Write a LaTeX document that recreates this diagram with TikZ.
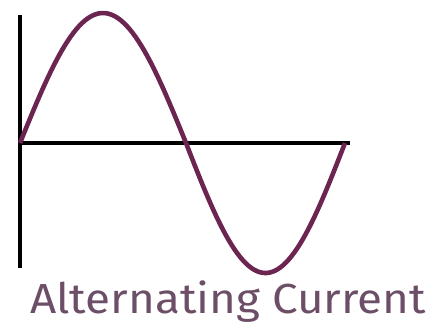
\documentclass[tikz,border=0pt]{standalone}
\usepackage{fontspec}
\setsansfont{Fira Sans}
\usepackage{tikz}
\definecolor{wave}{RGB}{108,36,80}
\definecolor{caption}{RGB}{108,78,102}

\begin{document}
\begin{tikzpicture}[x=1pt,y=-1pt]
\useasboundingbox (0,0) rectangle (428,324);
\coordinate (o) at (20,143);
\coordinate (ytop) at (20,15);
\coordinate (ybot) at (20,268);
\coordinate (xend) at (350,143);
\draw[line width=4.4pt] (ytop) -- (ybot);
\draw[line width=4.4pt] (o) -- (xend);
\draw[wave,line width=4.6pt,line join=round] plot[domain=0:180,samples=60] ({20+0.9222*\x},{143-130*sin(\x)})
  -- plot[domain=180:360,samples=60] ({186+0.8833*(\x-180)},{143-130*sin(\x)});
\node[caption,anchor=base west,inner sep=0pt,xscale=1.09,font=\sffamily\fontsize{42}{42}\selectfont] (label) at (30,313) {Alternating Current};
\end{tikzpicture}
\end{document}
